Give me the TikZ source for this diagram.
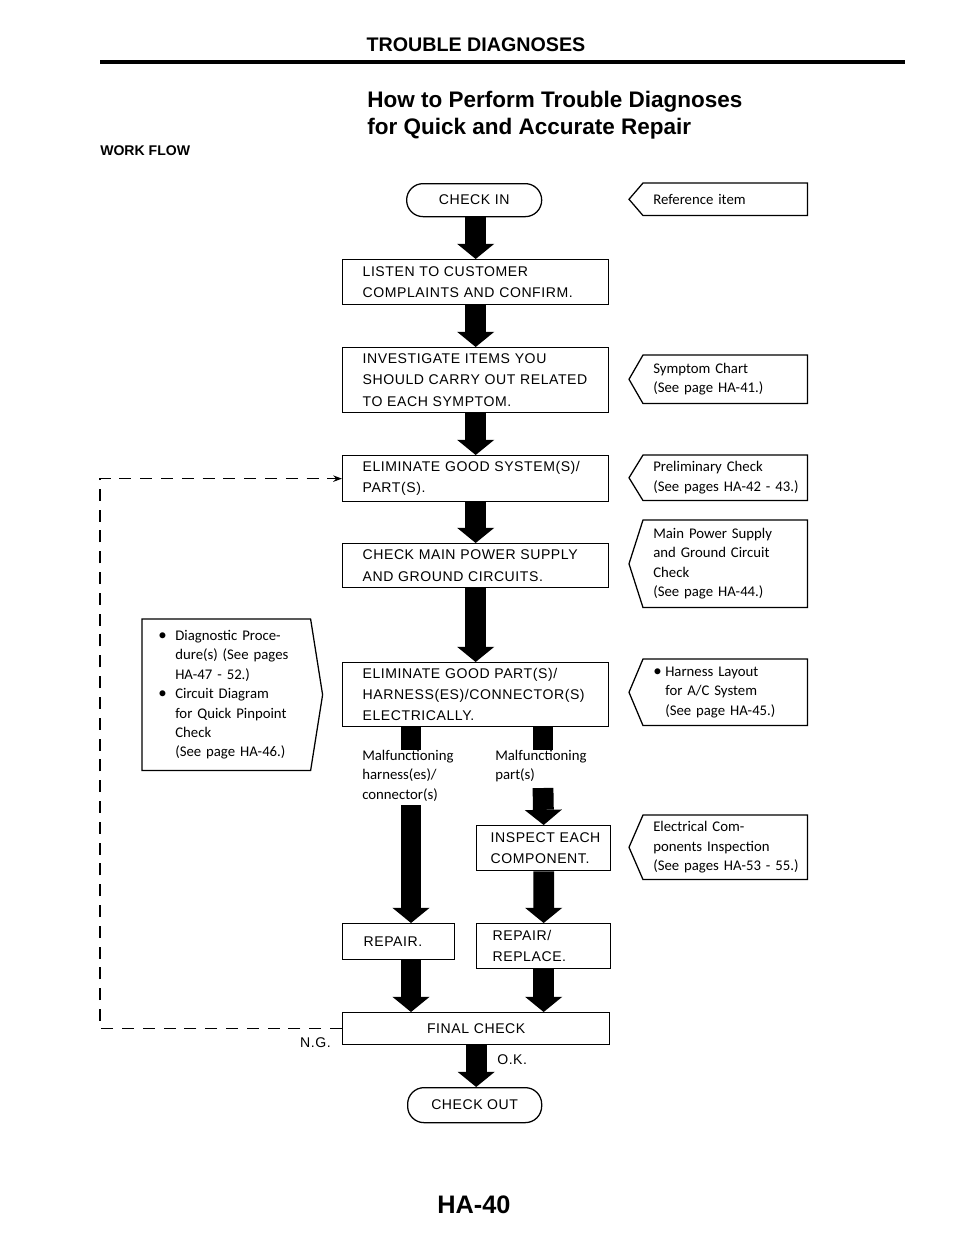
\documentclass[tikz,border=0pt]{standalone}
\usepackage{fontspec}
\setmainfont{Liberation Sans}
\newfontfamily\capsfont[LetterSpace=4]{Liberation Sans}
\newfontfamily\notefont{Carlito}
\usetikzlibrary{arrows.meta}

\newcommand{\boxfont}{\capsfont\fontsize{10}{15}\selectfont}
\newcommand{\notesize}{\notefont\fontsize{10.5}{13.8}\selectfont}
\newcommand{\bul}[1]{\makebox[#1][l]{\large\textbullet}}
\newcommand{\ind}[1]{\hspace*{#1}}
% outline of a reference note, pointing left or right
\newcommand{\pointleft}[1]{\draw[line width=0.9pt] (#1.north east) -- (#1.north west) -- ([xshift=-0.35cm]#1.west) -- (#1.south west) -- (#1.south east) -- cycle;}
\newcommand{\pointright}[1]{\draw[line width=0.9pt] (#1.north west) -- (#1.north east) -- ([xshift=0.3cm]#1.east) -- (#1.south east) -- (#1.south west) -- cycle;}

\begin{document}
\begin{tikzpicture}[x=0.025cm, y=-0.025cm]
\tikzset{
  stepbox/.style={draw, line width=0.9pt, anchor=north west, inner xsep=0.5cm, inner ysep=0pt, align=left, font=\boxfont},
  endbox/.style={draw, line width=0.9pt, rounded corners=0.41cm, anchor=north west, inner sep=0pt, font=\boxfont},
  refnote/.style={anchor=north west, inner xsep=0.25cm, inner ysep=0pt, text width=3.6cm, align=left, font=\notesize},
  lbl/.style={inner sep=0pt, align=left, font=\notesize},
  fat/.style={line width=0.52cm, -{Triangle[width=0.93cm,length=0.38cm,line width=0pt]}},
  stub/.style={line width=0.48cm},
  ngline/.style={line width=0.8pt, dash pattern=on 0.3cm off 0.22cm, -{Stealth[length=0.22cm,width=0.16cm]}}
}
\useasboundingbox (0,0) rectangle (960,1242);

% heading
\node[font=\bfseries\fontsize{14}{16}\selectfont] (title) at (476,45) {TROUBLE DIAGNOSES};
\draw[line width=2.2pt] (100,62) -- (905,62);
\node[anchor=north west, inner sep=0pt, align=left, font=\bfseries\fontsize{16}{19}\selectfont] (howto) at (367,91) {How to Perform Trouble Diagnoses\\for Quick and Accurate Repair};
\node[anchor=west, inner sep=0pt, font=\bfseries\fontsize{10}{12}\selectfont] (workflow) at (100,151) {WORK FLOW};

% main flow
\node[endbox, minimum width=3.375cm, minimum height=0.825cm] (checkin) at (406,183) {CHECK~IN};
\node[stepbox, text width=5.65cm, minimum height=1.125cm] (listen) at (342,259) {LISTEN~TO~CUSTOMER\\COMPLAINTS~AND~CONFIRM.};
\node[stepbox, text width=5.65cm, minimum height=1.625cm] (investigate) at (342,347) {INVESTIGATE~ITEMS~YOU\\SHOULD~CARRY~OUT~RELATED\\TO~EACH~SYMPTOM.};
\node[stepbox, text width=5.65cm, minimum height=1.15cm] (elimsys) at (342,455) {ELIMINATE~GOOD~SYSTEM(S)/\\PART(S).};
\node[stepbox, text width=5.65cm, minimum height=1.1cm] (checkmain) at (342,543) {CHECK~MAIN~POWER~SUPPLY\\AND~GROUND~CIRCUITS.};
\node[stepbox, text width=5.65cm, minimum height=1.6cm] (elimpart) at (342,662) {ELIMINATE~GOOD~PART(S)/\\HARNESS(ES)/CONNECTOR(S)\\ELECTRICALLY.};
\node[stepbox, inner xsep=0.35cm, text width=2.65cm, minimum height=1.125cm] (inspect) at (476,825) {INSPECT~EACH\\COMPONENT.};
\node[stepbox, inner xsep=0.525cm, text width=1.75cm, minimum height=0.9cm] (repair) at (342,923) {REPAIR.};
\node[stepbox, inner xsep=0.4cm, text width=2.55cm, minimum height=1.125cm] (replace) at (476,923) {REPAIR/\\REPLACE.};
\node[stepbox, inner xsep=0pt, text width=6.675cm, align=center, minimum height=0.8cm] (final) at (342,1012) {FINAL~CHECK};
\node[endbox, minimum width=3.35cm, minimum height=0.875cm] (checkout) at (407,1087) {CHECK~OUT};

\node[lbl, anchor=north west] (harnlbl) at (362,750) {Malfunctioning\\harness(es)/\\connector(s)};
\node[lbl, anchor=north west] (partlbl) at (495,750) {Malfunctioning\\part(s)};
\node[font=\boxfont, anchor=east, inner sep=0pt] (ng) at (331,1043) {N.G.};
\node[font=\boxfont, anchor=west, inner sep=0pt] (ok) at (497,1060) {O.K.};

\coordinate (harnstop) at (411,750);
\coordinate (harntop) at (411,805);
\coordinate (partstop) at (543,750);
\coordinate (parttop) at (543,788);
\coordinate (loopx) at (100,0);

% block arrows
\draw[fat] (listen.north |- checkin.south) -- (listen.north);
\draw[fat] (listen.south) -- (investigate.north);
\draw[fat] (investigate.south) -- (elimsys.north);
\draw[fat] (elimsys.south) -- (checkmain.north);
\draw[fat] (checkmain.south) -- (elimpart.north);
\draw[stub] (harnstop |- elimpart.south) -- (harnstop);
\draw[stub] (partstop |- elimpart.south) -- (partstop);
\draw[fat] (harntop) -- (harntop |- repair.north);
\draw[fat] (parttop) -- (inspect.north);
\draw[fat] (inspect.south) -- (replace.north);
\draw[fat] (harntop |- repair.south) -- (harntop |- final.north);
\draw[fat] (replace.south) -- (replace.south |- final.north);
\draw[fat] (final.south) -- (final.south |- checkout.north);

% N.G. loop
\draw[ngline] (final.west) -- (final.west -| loopx) -- (elimsys.west -| loopx) -- (elimsys.west);

% reference notes
\node[refnote, minimum height=0.8cm] (refitem) at (643,183) {Reference item};
\pointleft{refitem}
\node[refnote, minimum height=1.2cm] (symptom) at (643,355) {Symptom Chart\\(See page HA-41.)};
\pointleft{symptom}
\node[refnote, minimum height=1.125cm] (prelim) at (643,455) {Preliminary Check\\\mbox{(See pages HA-42 - 43.)}};
\pointleft{prelim}
\node[refnote, minimum height=2.175cm] (mainpower) at (643,520) {Main Power Supply\\and Ground Circuit\\Check\\(See page HA-44.)};
\pointleft{mainpower}
\node[refnote, minimum height=1.65cm] (harness) at (643,659) {\bul{0.3cm}Harness Layout\\\ind{0.3cm}for A/C System\\\ind{0.3cm}(See page HA-45.)};
\pointleft{harness}
\node[refnote, minimum height=1.6cm] (electrical) at (643,815) {Electrical Com-\\ponents Inspection\\\mbox{(See pages HA-53 - 55.)}};
\pointleft{electrical}
\node[refnote, inner xsep=0.4cm, text width=3.4cm, minimum height=3.775cm] (diag) at (142,619) {\bul{0.425cm}Diagnostic Proce-\\\ind{0.425cm}dure(s)~(See~pages\\\ind{0.425cm}\mbox{HA-47 - 52.)}\\\bul{0.425cm}Circuit Diagram\\\ind{0.425cm}for Quick Pinpoint\\\ind{0.425cm}Check\\\ind{0.425cm}(See page HA-46.)};
\pointright{diag}

\node[font=\bfseries\fontsize{18}{20}\selectfont] (pagenum) at (474,1205) {HA-40};
\end{tikzpicture}
\end{document}
